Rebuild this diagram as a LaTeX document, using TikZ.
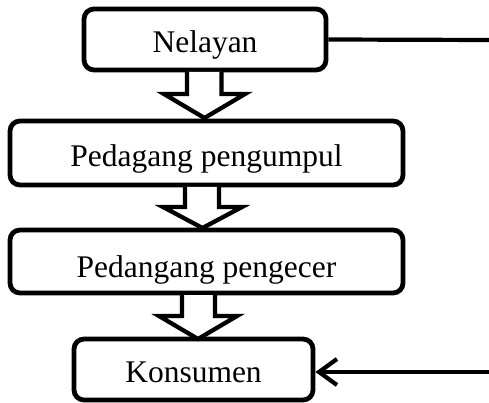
\documentclass[tikz,border=0pt]{standalone}
\usepackage{fontspec}
\setmainfont{Liberation Serif}
\usetikzlibrary{arrows.meta,calc}
\begin{document}
\begin{tikzpicture}[x=1pt,y=-1pt,
  box/.style={draw=black, line width=4.8pt, rounded corners=10pt, fill=white,
    inner sep=0pt, text depth=0pt, font=\fontsize{31.5}{36}\selectfont},
  blockarrow/.style={draw=black, line width=4.3pt, fill=white, line join=miter},
  conn/.style={draw=black, line width=4.2pt}]
\useasboundingbox (0,0) rectangle (489,403);
\node[box, minimum width=242pt, minimum height=61pt, text height=27pt] (n1) at (205,39.5) {Nelayan};
\node[box, minimum width=393pt, minimum height=64pt, text height=28pt] (n2) at (206.5,153) {Pedagang pengumpul};
\node[box, minimum width=393pt, minimum height=63pt, text height=31pt] (n3) at (206.5,261.5) {Pedangang pengecer};
\node[box, minimum width=239pt, minimum height=61pt, text height=25pt] (n4) at (193.5,369.5) {Konsumen};
\coordinate (e1) at (489,40);
\coordinate (e2) at (489,372);
% block arrows
\draw[blockarrow] (187,72) -- (187,94) -- (164,94) -- (204.5,118) -- (245,94) -- (221.5,94) -- (221.5,72);
\draw[blockarrow] (185,187) -- (185,207) -- (163,207) -- (202.5,228) -- (242,207) -- (219,207) -- (219,187);
\draw[blockarrow] (182,295) -- (182,316) -- (159,316) -- (198,339) -- (237,316) -- (215,316) -- (215,295);
% side connectors
\draw[conn] (n1.east) -- (e1);
\draw[conn, -{Straight Barb[length=18pt,width=26pt]}] (e2) -- (n4.east |- e2);
\end{tikzpicture}
\end{document}
